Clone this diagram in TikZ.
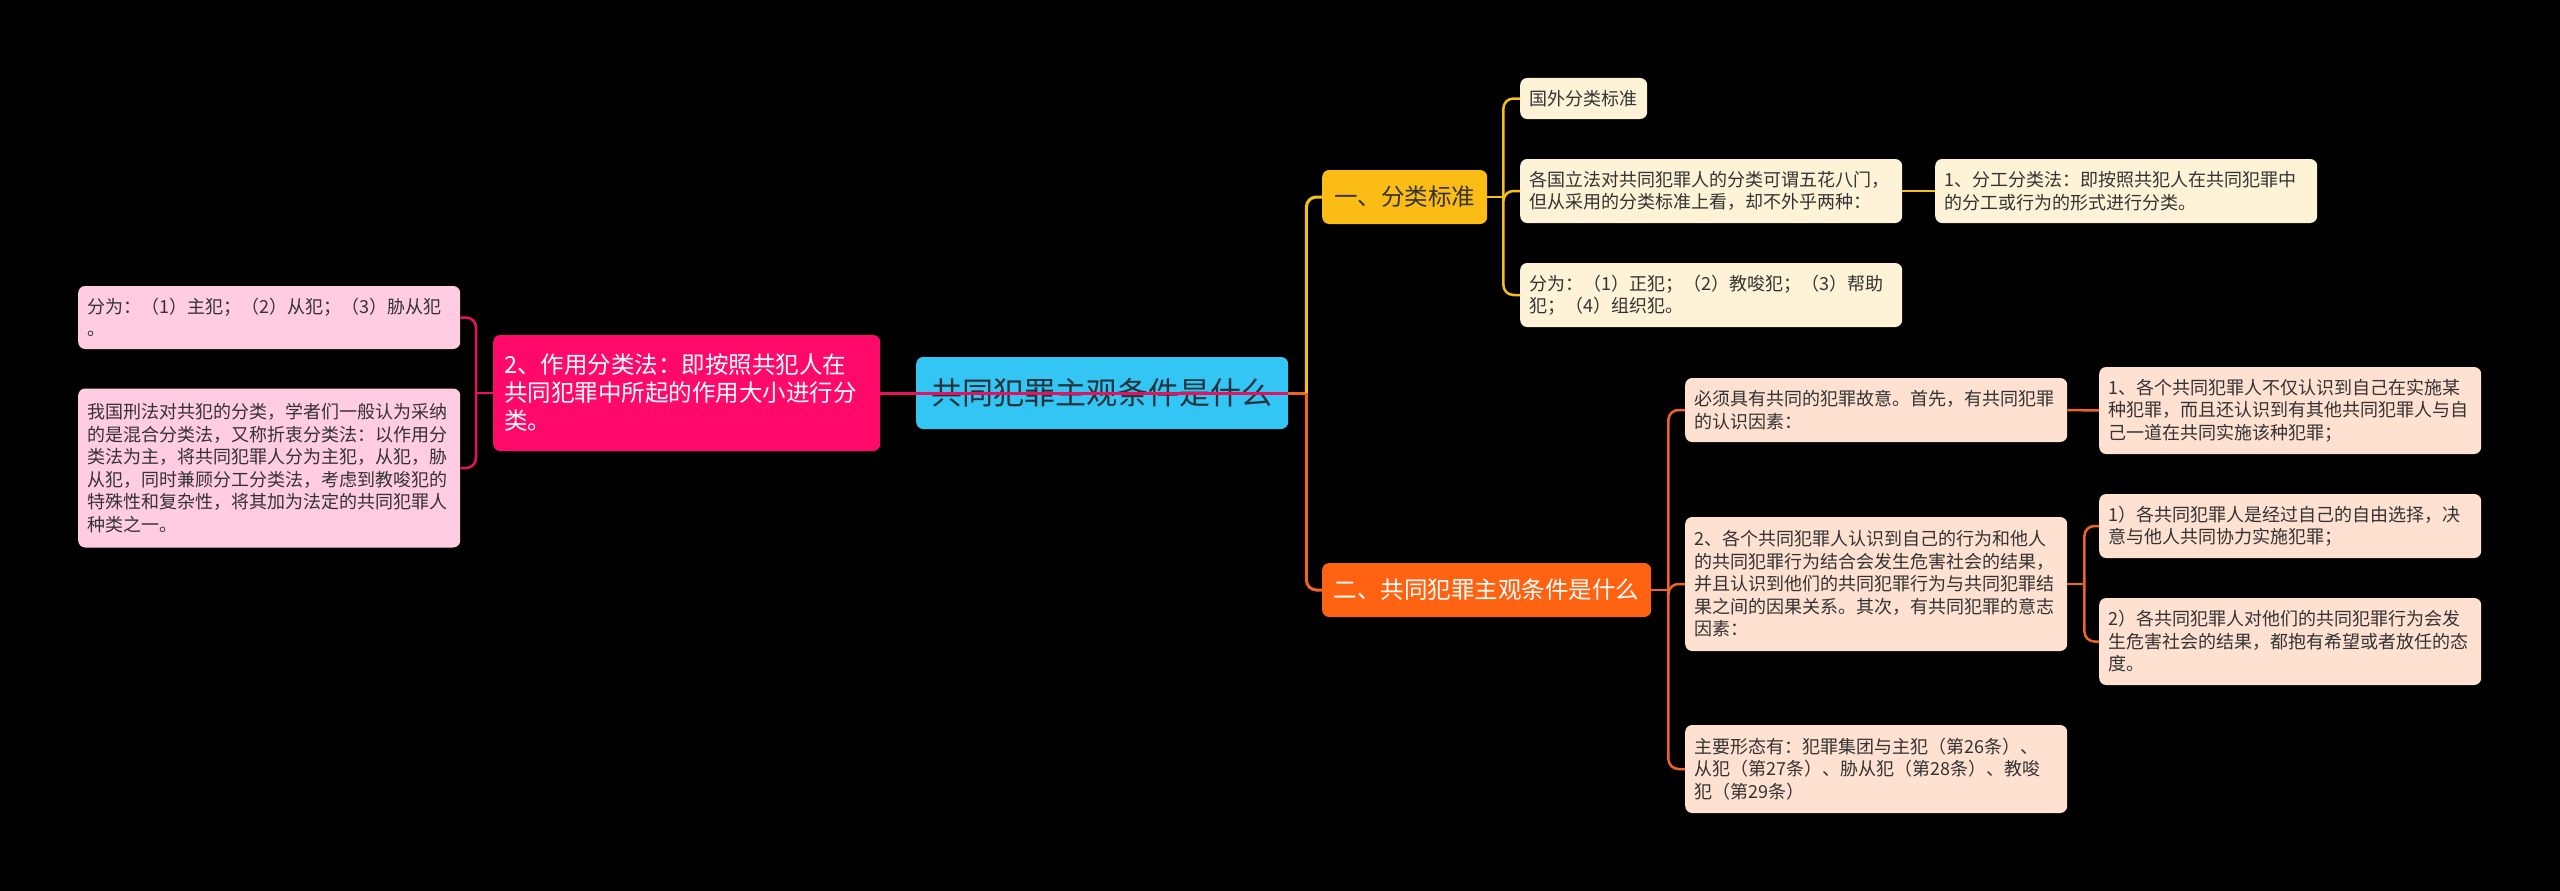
\documentclass[tikz,border=0pt]{standalone}
\usepackage{fontspec}
\setmainfont{Noto Sans CJK SC}
\usepackage{xcolor}
\usetikzlibrary{positioning, calc}
\definecolor{mycyan}{HTML}{33C5F3}
\definecolor{myroottext}{HTML}{24343E}
\definecolor{mytext}{HTML}{333333}
\definecolor{mypink}{HTML}{FF0A6A}
\definecolor{mypinkleaf}{HTML}{FFCCE1}
\definecolor{mypinkline}{HTML}{E8115F}
\definecolor{myyellow}{HTML}{FCBC16}
\definecolor{myyellowleaf}{HTML}{FEF3D6}
\definecolor{myyellowline}{HTML}{F5C01A}
\definecolor{myorange}{HTML}{FF6210}
\definecolor{myorangeleaf}{HTML}{FFE1D2}
\definecolor{myorangeline}{HTML}{EE6421}
\tikzset{
  % Nodi della mappa
  box/.style={rounded corners=7pt,inner xsep=9pt,inner ysep=4pt,anchor=west,text=mytext},
  box root/.style={box,fill=mycyan,text=myroottext,minimum width=372pt,minimum height=72pt,font=\fontsize{31}{36}\selectfont},
  box main/.style={box,inner xsep=10pt,minimum height=54pt,align=center,font=\fontsize{23.5}{28}\selectfont},
  box leaf/.style={box,text width=364pt,align=left,font=\fontsize{18}{22.5}\selectfont},
  box pink/.style={box main,fill=mypink,text=white,text width=365pt,align=left,inner xsep=11pt,minimum height=116pt},
  box yellow/.style={box main,fill=myyellow,minimum width=165pt},
  box orange/.style={box main,fill=myorange,text=white,minimum width=329pt},
  leaf pink/.style={box leaf,fill=mypinkleaf},
  leaf yellow/.style={box leaf,fill=myyellowleaf},
  leaf orange/.style={box leaf,fill=myorangeleaf},
  % Connessioni
  link/.style={line width=2.5pt,rounded corners=10pt},
  link pink/.style={link,draw=mypinkline},
  link yellow/.style={link,draw=myyellowline},
  link orange/.style={link,draw=myorangeline}
}

\begin{document}
\begin{tikzpicture}[x=1pt,y=-1pt]

\fill[black] (0,0) rectangle (2560,891);
\useasboundingbox (0,0) rectangle (2560,891);

% Nodo centrale
\node[box root,align=center] (root) at (916,393) {共同犯罪主观条件是什么};

% Ramo sinistro
\node[box pink] (pmain) at (493,393) {2、作用分类法：即按照共犯人在\\共同犯罪中所起的作用大小进行分\\类。};
\node[leaf pink,minimum height=63pt] (pleaf1) at (78,317.5) {分为：（1）主犯；（2）从犯；（3）胁从犯\\。};
\node[leaf pink,minimum height=159pt] (pleaf2) at (78,468) {我国刑法对共犯的分类，学者们一般认为采纳\\的是混合分类法，又称折衷分类法：以作用分\\类法为主，将共同犯罪人分为主犯，从犯，胁\\从犯，同时兼顾分工分类法，考虑到教唆犯的\\特殊性和复杂性，将其加为法定的共同犯罪人\\种类之一。};

% Ramo giallo
\node[box yellow] (ymain) at (1322,197) {一、分类标准};
\node[leaf yellow,text width={},minimum width=127pt,minimum height=41pt] (yleaf1) at (1520,98.5) {国外分类标准};
\node[leaf yellow,minimum height=64pt] (yleaf2) at (1520,191) {各国立法对共同犯罪人的分类可谓五花八门，\\但从采用的分类标准上看，却不外乎两种：};
\node[leaf yellow,minimum height=64pt] (yleaf3) at (1520,295) {分为：（1）正犯；（2）教唆犯；（3）帮助\\犯；（4）组织犯。};
\node[leaf yellow,minimum height=64pt] (ysub) at (1935,191) {1、分工分类法：即按照共犯人在共同犯罪中\\的分工或行为的形式进行分类。};

% Ramo arancione
\node[box orange] (omain) at (1322,590) {二、共同犯罪主观条件是什么};
\node[leaf orange,minimum height=64pt] (oleaf1) at (1685,410) {必须具有共同的犯罪故意。首先，有共同犯罪\\的认识因素：};
\node[leaf orange,minimum height=134pt] (oleaf2) at (1685,584) {2、各个共同犯罪人认识到自己的行为和他人\\的共同犯罪行为结合会发生危害社会的结果，\\并且认识到他们的共同犯罪行为与共同犯罪结\\果之间的因果关系。其次，有共同犯罪的意志\\因素：};
\node[leaf orange,minimum height=88pt] (oleaf3) at (1685,769) {主要形态有：犯罪集团与主犯（第26条）、\\从犯（第27条）、胁从犯（第28条）、教唆\\犯（第29条）};
\node[leaf orange,minimum height=87pt] (osub1) at (2099,410.5) {1、各个共同犯罪人不仅认识到自己在实施某\\种犯罪，而且还认识到有其他共同犯罪人与自\\己一道在共同实施该种犯罪；};
\node[leaf orange,minimum height=64pt] (osub2) at (2099,526) {1）各共同犯罪人是经过自己的自由选择，决\\意与他人共同协力实施犯罪；};
\node[leaf orange,minimum height=87pt] (osub3) at (2099,641.5) {2）各共同犯罪人对他们的共同犯罪行为会发\\生危害社会的结果，都抱有希望或者放任的态\\度。};

% Punti di snodo
\coordinate (cR) at ($(root.east)+(18,0)$);
\coordinate (pL) at ($(pmain.west)+(-17,0)$);
\coordinate (yR) at ($(ymain.east)+(16,0)$);
\coordinate (oR) at ($(omain.east)+(17,0)$);
\coordinate (o2R) at ($(oleaf2.east)+(17,0)$);

% Collegamenti
\draw[link orange,line width=3pt] (root.east) -- (cR);
\draw[link yellow,line width=3pt] (cR) |- (ymain.west);
\draw[link orange,line width=3pt] (cR) |- (omain.west);
\draw[link pink,line width=3pt] (pmain.east) -- (root.east);

\draw[link pink] (pmain.west) -- (pL);
\draw[link pink] (pL) |- (pleaf1.east);
\draw[link pink] (pL) |- (pleaf2.east);

\draw[link yellow] (ymain.east) -- (yR);
\draw[link yellow] (yR) |- (yleaf1.west);
\draw[link yellow] (yR) |- (yleaf2.west);
\draw[link yellow] (yR) |- (yleaf3.west);
\draw[link yellow] (yleaf2.east) -- (ysub.west);

\draw[link orange] (omain.east) -- (oR);
\draw[link orange] (oR) |- (oleaf1.west);
\draw[link orange] (oR) |- (oleaf2.west);
\draw[link orange] (oR) |- (oleaf3.west);
\draw[link orange] (oleaf1.east) -- (osub1.west);
\draw[link orange] (oleaf2.east) -- (o2R);
\draw[link orange] (o2R) |- (osub2.west);
\draw[link orange] (o2R) |- (osub3.west);

\end{tikzpicture}
\end{document}
